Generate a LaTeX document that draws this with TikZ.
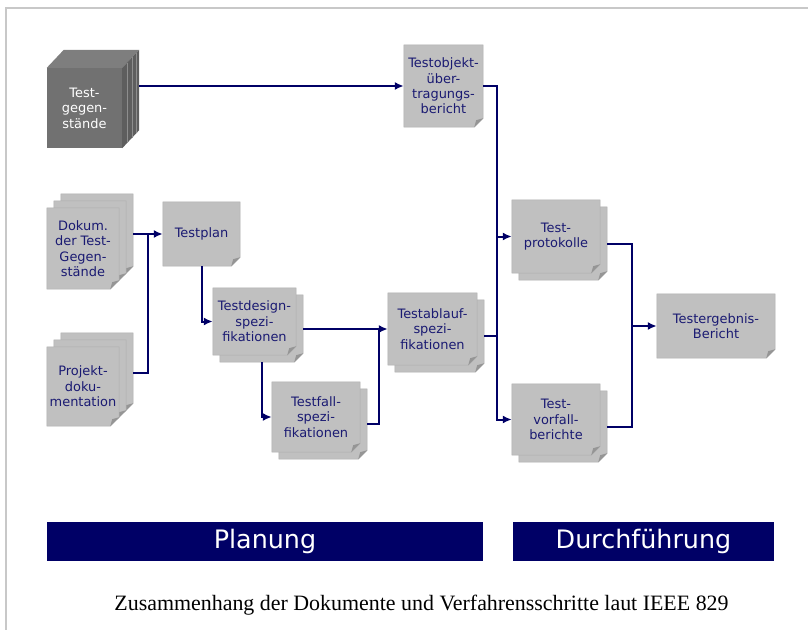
\documentclass[tikz,border=0pt]{standalone}
\usepackage{fontspec}
\setmainfont{Liberation Serif}
\newfontfamily\labelfont{DejaVu Sans}
\usetikzlibrary{arrows.meta,calc,backgrounds}

\definecolor{navy}{HTML}{000066}
\definecolor{ink}{HTML}{1A1A72}
\definecolor{paper}{HTML}{C0C0C0}
\definecolor{paperedge}{HTML}{ADADAD}
\definecolor{foldgray}{HTML}{959595}
\definecolor{framegray}{HTML}{C8C8C8}
\definecolor{cubefront}{HTML}{717171}
\definecolor{cubetop}{HTML}{7E7E7E}
\definecolor{cubeside}{HTML}{5E5E5E}
\definecolor{cubestripe}{HTML}{8E8E8E}

\tikzset{
  lbl/.style={font=\labelfont\fontsize{13}{15.5}\selectfont, text=ink, align=center, inner sep=0pt},
  doc/.style 2 args={lbl, minimum width=#1bp, minimum height=#2bp},
  line/.style={draw=navy, line width=2bp},
  flow/.style={line, -{Latex[length=9bp,width=8bp]}},
  banner/.style={fill=navy, text=white, inner sep=0pt,
    font=\labelfont\fontsize{25.5}{30}\selectfont},
}

% one sheet of paper with a dog-ear, behind node #1, moved #2 right and #3 down
\newcommand\sheet[3]{%
  \path[fill=paper, draw=paperedge, line width=0.5bp]
    let \p1=(#1.north west), \p2=(#1.south east) in
    (\x1+#2bp,\y1-#3bp) -- (\x2+#2bp,\y1-#3bp) -- (\x2+#2bp,\y2+9bp-#3bp)
    -- (\x2-9bp+#2bp,\y2-#3bp) -- (\x1+#2bp,\y2-#3bp) -- cycle;
  \path[fill=foldgray]
    let \p1=(#1.north west), \p2=(#1.south east) in
    (\x2+#2bp,\y2+9bp-#3bp) -- (\x2-9bp+#2bp,\y2-#3bp) -- (\x2-7bp+#2bp,\y2+7bp-#3bp) -- cycle;
}

\begin{document}
\begin{tikzpicture}[x=1bp, y=-1bp]
\useasboundingbox (0,0) rectangle (808,630);
\draw[framegray, line width=1.2bp] (6,630) -- (6,8) -- (808,8);

% documents
\node[doc={75}{80}, text=white] (cube) at (84.5,108) {Test-\\gegen-\\stände};
\node[doc={79}{82}] (obj) at (443.5,86) {Testobjekt-\\über-\\tragungs-\\bericht};
\node[doc={72}{81}] (dok) at (83,248.5) {Dokum.\\der Test-\\Gegen-\\stände};
\node[doc={72}{79}] (proj) at (83,386.5) {Projekt-\\doku-\\mentation};
\node[doc={77}{64}] (plan) at (201.5,234) {Testplan};
\node[doc={83}{67}] (design) at (254.5,321.5) {Testdesign-\\spezi-\\fikationen};
\node[doc={88}{70}] (fall) at (316,417) {Testfall-\\spezi-\\fikationen};
\node[doc={89}{72}] (ablauf) at (432.5,329) {Testablauf-\\spezi-\\fikationen};
\node[doc={88}{73}] (prot) at (556,236.5) {Test-\\protokolle};
\node[doc={88}{71}] (vorf) at (556,419.5) {Test-\\vorfall-\\berichte};
\node[doc={118}{64}] (erg) at (716,326) {Testergebnis-\\Bericht};

\begin{pgfonlayer}{background}
  % stacked block of test items
  \fill[cubetop] (cube.north west) -- ++(17,-18) -- ($(cube.north east)+(17,-18)$)
    -- (cube.north east) -- cycle;
  \fill[cubeside] (cube.north east) -- ++(17,-18) -- ($(cube.south east)+(17,-18)$)
    -- (cube.south east) -- cycle;
  \foreach \d in {5,10,14}
    \draw[cubestripe, line width=0.8bp]
      ($(cube.north east)+(\d,-\d*18/17)$) -- ($(cube.south east)+(\d,-\d*18/17)$);
  \fill[cubefront] (cube.north west) rectangle (cube.south east);

  \sheet{dok}{14}{-14}\sheet{dok}{7}{-7}\sheet{dok}{0}{0}
  \sheet{proj}{14}{-14}\sheet{proj}{7}{-7}\sheet{proj}{0}{0}
  \sheet{plan}{0}{0}
  \sheet{obj}{0}{0}
  \sheet{design}{7}{7}\sheet{design}{0}{0}
  \sheet{fall}{7}{7}\sheet{fall}{0}{0}
  \sheet{ablauf}{7}{7}\sheet{ablauf}{0}{0}
  \sheet{prot}{7}{7}\sheet{prot}{0}{0}
  \sheet{vorf}{7}{7}\sheet{vorf}{0}{0}
  \sheet{erg}{0}{0}
\end{pgfonlayer}

% connectors
\coordinate (cubeR) at ($(cube.east)+(17,0)$);
\coordinate (dokR) at ($(dok.east)+(14,0)$);
\coordinate (projR) at ($(proj.east)+(14,-14)$);
\coordinate (designB) at ($(design.south)+(7,7)$);
\coordinate (designR) at ($(design.east)+(7,7)$);
\coordinate (fallR) at ($(fall.east)+(7,7)$);
\coordinate (ablaufR) at ($(ablauf.east)+(7,7)$);
\coordinate (protR) at ($(prot.east)+(7,7)$);
\coordinate (vorfR) at ($(vorf.east)+(7,7)$);
\coordinate (jx) at (148,0);
\coordinate (kx) at (379,0);
\coordinate (busx) at (497,0);
\coordinate (mx) at (632,0);

\draw[flow] (cubeR |- obj.west) -- (obj.west);
\draw[flow] (dokR |- plan.west) -- (plan.west);
\draw[line] (projR) -| (jx |- plan.west);
\draw[flow] (plan.south) |- (design.west);
\draw[flow] (designB) |- (fall.west);
\draw[flow] (designR |- ablauf.west) -- (ablauf.west);
\draw[line] (fallR) -| (kx |- ablauf.west);
\draw[flow] (obj.east) -| (busx |- vorf.west) -- (vorf.west);
\draw[flow] (busx |- prot.west) -- (prot.west);
\draw[line] (ablaufR) -- (busx |- ablaufR);
\draw[line] (protR) -| (mx |- vorfR) -- (vorfR);
\draw[flow] (mx |- erg.west) -- (erg.west);

% phases
\node[banner, minimum width=436bp, minimum height=39bp] (planung) at (265,541.5) {Planung};
\node[banner, minimum width=261bp, minimum height=39bp] (durch) at (643.5,541.5) {Durchführung};

\node[font=\fontsize{22}{26}\selectfont, inner sep=0pt] (caption) at (421.5,605)
  {Zusammenhang der Dokumente und Verfahrensschritte laut IEEE 829};
\end{tikzpicture}
\end{document}
